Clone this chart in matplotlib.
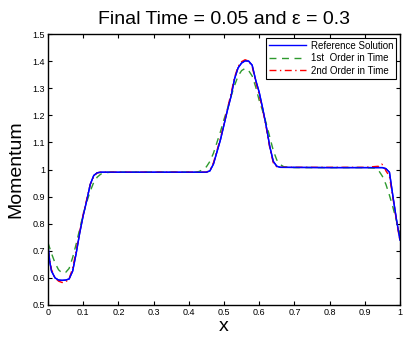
import matplotlib
matplotlib.use("Agg")
import matplotlib.pyplot as plt

plt.rcParams['font.family'] = ['Liberation Sans', 'DejaVu Sans']

# reference solution
x_ref = [0, 0.005, 0.01, 0.02, 0.03, 0.04, 0.05, 0.06, 0.07, 0.08, 0.09, 0.10,
         0.11, 0.12, 0.13, 0.14, 0.15, 0.3, 0.45, 0.46, 0.47, 0.48, 0.49, 0.50,
         0.51, 0.52, 0.53, 0.54, 0.55, 0.56, 0.57, 0.58, 0.59, 0.60, 0.61, 0.62,
         0.63, 0.64, 0.65, 0.66, 0.8, 0.95, 0.96, 0.97, 0.98, 0.99, 1.0]
y_ref = [0.72, 0.66, 0.625, 0.60, 0.592, 0.591, 0.592, 0.596, 0.625, 0.69, 0.765, 0.83,
         0.885, 0.945, 0.978, 0.988, 0.99, 0.99, 0.99, 0.995, 1.02, 1.065, 1.11, 1.165,
         1.22, 1.27, 1.335, 1.375, 1.393, 1.401, 1.40, 1.385, 1.33, 1.285, 1.225, 1.16,
         1.085, 1.03, 1.012, 1.008, 1.007, 1.007, 1.003, 0.99, 0.90, 0.815, 0.74]

# 1st order in time
x_first = [0, 0.01, 0.02, 0.03, 0.04, 0.05, 0.06, 0.07, 0.08, 0.09, 0.10, 0.11,
           0.12, 0.13, 0.14, 0.15, 0.16, 0.18, 0.3, 0.42, 0.43, 0.44, 0.45, 0.46,
           0.47, 0.48, 0.49, 0.50, 0.51, 0.52, 0.53, 0.54, 0.55, 0.56, 0.57, 0.58,
           0.59, 0.60, 0.61, 0.62, 0.63, 0.64, 0.65, 0.66, 0.67, 0.7, 0.9, 0.93,
           0.94, 0.95, 0.96, 0.97, 0.98, 0.99, 1.0]
y_first = [0.73, 0.69, 0.655, 0.63, 0.618, 0.62, 0.635, 0.675, 0.725, 0.78, 0.835, 0.88,
           0.92, 0.953, 0.972, 0.983, 0.988, 0.99, 0.99, 0.99, 0.993, 1.0, 1.01, 1.03,
           1.06, 1.10, 1.14, 1.185, 1.225, 1.27, 1.31, 1.345, 1.365, 1.373, 1.365, 1.345,
           1.305, 1.255, 1.215, 1.17, 1.12, 1.07, 1.035, 1.018, 1.01, 1.007, 1.007, 1.005,
           0.995, 0.975, 0.945, 0.905, 0.86, 0.81, 0.76]

# 2nd order in time
x_second = [0, 0.01, 0.02, 0.03, 0.04, 0.05, 0.06, 0.07, 0.08, 0.09, 0.10, 0.11,
            0.12, 0.13, 0.14, 0.15, 0.3, 0.45, 0.46, 0.47, 0.48, 0.49, 0.50, 0.51,
            0.52, 0.53, 0.54, 0.55, 0.56, 0.57, 0.58, 0.59, 0.60, 0.61, 0.62, 0.63,
            0.64, 0.65, 0.66, 0.9, 0.94, 0.948, 0.955, 0.96, 0.97, 0.98, 0.99, 1.0]
y_second = [0.70, 0.63, 0.60, 0.588, 0.583, 0.585, 0.597, 0.635, 0.70, 0.77, 0.835, 0.89,
            0.945, 0.975, 0.988, 0.99, 0.99, 0.99, 0.998, 1.025, 1.07, 1.115, 1.17, 1.225,
            1.28, 1.34, 1.38, 1.398, 1.405, 1.40, 1.38, 1.325, 1.275, 1.22, 1.155, 1.08,
            1.025, 1.01, 1.008, 1.008, 1.012, 1.02, 1.01, 0.995, 0.975, 0.895, 0.81, 0.735]

xticks = [0, 0.1, 0.2, 0.3, 0.4, 0.5, 0.6, 0.7, 0.8, 0.9, 1]
xtick_labels = ['0', '0.1', '0.2', '0.3', '0.4', '0.5', '0.6', '0.7', '0.8', '0.9', '1']
yticks = [0.5, 0.6, 0.7, 0.8, 0.9, 1.0, 1.1, 1.2, 1.3, 1.4, 1.5]
ytick_labels = ['0.5', '0.6', '0.7', '0.8', '0.9', '1', '1.1', '1.2', '1.3', '1.4', '1.5']

fig = plt.figure(figsize=(4.03, 3.39), dpi=100)
ax = fig.add_axes([48/403, 1 - 305/339, 352/403, 271/339])

ax.plot(x_ref, y_ref, color='#0000ff', lw=1.0, label='Reference Solution')
ax.plot(x_first, y_first, color='#2e9a2e', lw=1.0, ls=(0, (5, 4)), label='1st  Order in Time')
ax.plot(x_second, y_second, color='#ff0000', lw=1.0, ls=(0, (5, 2.5, 1, 2.5)), label='2nd Order in Time')
# draw reference on top again
ax.plot(x_ref, y_ref, color='#0000ff', lw=1.0)

ax.set_xlim(0, 1)
ax.set_ylim(0.5, 1.5)
ax.set_xticks(xticks)
ax.set_xticklabels(xtick_labels)
ax.set_yticks(yticks)
ax.set_yticklabels(ytick_labels)
ax.tick_params(direction='in', top=True, right=True, length=3, width=0.8,
               labelsize=6.5, pad=2)
for s in ax.spines.values():
    s.set_linewidth(1.0)

ax.set_title('Final Time = 0.05 and \u03b5 = 0.3', fontsize=14, pad=7)
ax.set_xlabel('x', fontsize=14, labelpad=1)
ax.set_ylabel('Momentum', fontsize=14, labelpad=6)

leg = ax.legend(loc='upper right', fontsize=7, fancybox=False, framealpha=1,
                edgecolor='black', handlelength=3.8, borderaxespad=0.4,
                labelspacing=0.25, borderpad=0.3, handletextpad=0.5)
leg.get_frame().set_linewidth(0.8)

fig.savefig('out.png', dpi=100)
